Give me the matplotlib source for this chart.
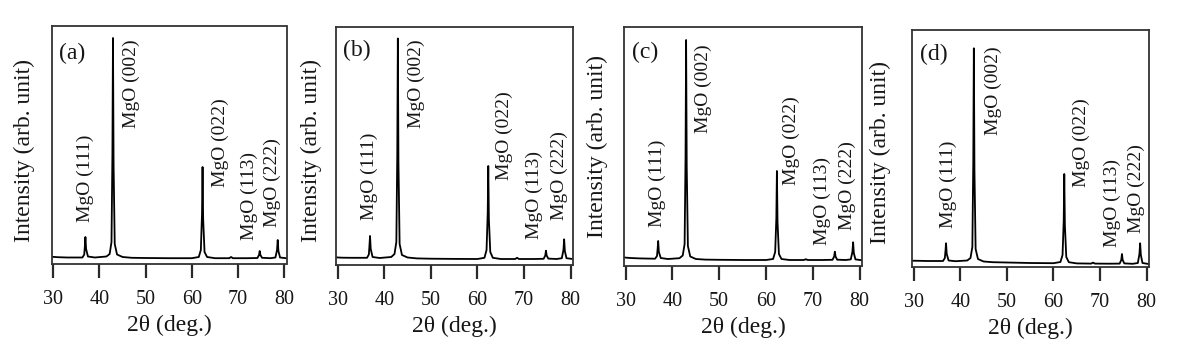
import matplotlib
matplotlib.use("Agg")
import matplotlib.pyplot as plt

plt.rcParams["font.family"] = ["Liberation Serif", "DejaVu Serif"]

# 2theta sampling points of the traced scans (deg.)
two_theta = [29.7, 31, 33, 35,
             36.3, 36.7, 36.85, 36.95, 37.1, 37.5,
             39, 41.5,
             42.2, 42.6, 42.8, 42.92, 43.05, 43.3, 43.8,
             45, 47, 50, 55, 60,
             61.5, 61.95, 62.2, 62.32, 62.45, 62.75, 63.3,
             65, 68.1, 68.5, 68.9, 72,
             74.2, 74.55, 74.7, 74.85, 75.2,
             77,
             78.1, 78.45, 78.6, 78.75, 79.1,
             80.4]

# intensities (arb. unit)
int_a = [7.2, 6.8, 6.5, 6.5,
         6.5, 9.5, 19, 27, 15, 7.5,
         6.5, 7.5,
         10, 22, 110, 226, 100, 20, 9.5,
         7.0, 6.2, 6.0, 5.8, 5.8,
         7.0, 14, 50, 97, 45, 12, 7.0,
         5.8, 5.8, 7.0, 5.8, 5.8,
         6.0, 9.0, 13, 9.0, 6.2,
         5.8,
         6.5, 14, 24, 13, 6.5,
         5.8]

int_b = [7.6, 7.3, 7.2, 7.2,
         7.2, 10.5, 21, 29, 16, 8.0,
         7.0, 8.0,
         11, 23, 112, 226.5, 102, 21, 10,
         7.5, 6.6, 6.3, 6.1, 6.0,
         7.2, 15, 52, 99, 46, 13, 7.2,
         6.0, 6.0, 7.2, 6.0, 6.0,
         6.2, 9.5, 14.3, 9.5, 6.4,
         6.0,
         6.8, 15, 25.7, 14, 6.8,
         6.0]

int_c = [8.5, 8.0, 7.6, 7.4,
         7.3, 10, 18, 25, 14, 8.0,
         7.0, 7.8,
         10.5, 22, 110, 226, 100, 20, 9.5,
         7.0, 6.4, 6.2, 6.0, 6.0,
         7.0, 14, 48, 95, 44, 12, 7.0,
         6.0, 6.0, 6.8, 6.0, 6.0,
         6.2, 9.5, 14.3, 9.5, 6.3,
         6.0,
         6.6, 14, 23.7, 13, 6.6,
         5.8]

int_d = [6.3, 6.2, 6.0, 6.0,
         6.0, 9.0, 17, 23.7, 13, 6.5,
         5.8, 6.5,
         9.0, 20, 106, 218.7, 96, 18, 8.0,
         5.5, 4.8, 4.5, 4.0, 3.8,
         5.0, 12, 46, 93, 42, 10, 4.8,
         3.6, 3.4, 4.4, 3.4, 3.3,
         3.4, 7.0, 13, 7.0, 3.6,
         3.2,
         4.0, 13, 23.7, 12, 4.0,
         3.0]

intensities = [int_a, int_b, int_c, int_d]
panel_tags = ["(a)", "(b)", "(c)", "(d)"]
peak_names = ["MgO (111)", "MgO (002)", "MgO (022)", "MgO (113)", "MgO (222)"]
x_ticks = [30, 40, 50, 60, 70, 80]

# layout: axes boxes in pixels (left, top, right, bottom)
W, H = 1201, 354
boxes = [(51.7, 26, 286.5, 264),
         (336, 27, 573, 265),
         (624, 27, 862, 266),
         (912, 30, 1149, 267)]
# peak label anchors (x centre, bottom) in data units
label_x = [[37.0, 47.0, 66.2, 72.5, 77.4],
           [36.9, 46.8, 65.7, 72.2, 77.6],
           [36.8, 46.5, 65.3, 72.1, 77.4],
           [37.4, 47.2, 65.9, 72.6, 77.8]]
label_y = [[42, 136, 77, 24, 37],
           [45, 136.7, 85, 26, 45],
           [39.3, 133, 81, 21, 36],
           [38.7, 132, 80, 20.3, 33.7]]
ylabel_xy = [(35, 151), (321.7, 151), (608, 147), (891, 152)]
tag_xy = [(59, 53), (343, 50), (632, 52), (920, 54)]

ink = "#161616"
fig = plt.figure(figsize=(W / 100, H / 100), dpi=100)

for i in range(4):
    l, t, r, b = boxes[i]
    ax = fig.add_axes([l / W, (H - b) / H, (r - l) / W, (b - t) / H])
    ax.plot(two_theta, intensities[i], color="black", lw=1.3)
    ax.set_xlim(29.65, 80.5)
    ax.set_ylim(0, b - t)

    for sp in ax.spines.values():
        sp.set_linewidth(1.3)
        sp.set_color("#333333")

    ax.set_yticks([])
    ax.set_xticks(x_ticks)
    ax.tick_params(axis="x", direction="out", length=10, width=1.6,
                   color="#2a2a2a", labelsize=14.5, labelcolor=ink, pad=9)
    ax.set_xlabel("2θ (deg.)", fontsize=17, color=ink, labelpad=4)

    ax.set_ylabel("Intensity (arb. unit)", fontsize=17, color=ink)
    lx, ly = ylabel_xy[i]
    ax.yaxis.set_label_coords((lx - l) / (r - l), (b - ly) / (b - t))

    tx, ty = tag_xy[i]
    ax.text((tx - l) / (r - l), (b - ty) / (b - t), panel_tags[i],
            transform=ax.transAxes, fontsize=17, color=ink,
            ha="left", va="center")

    for k in range(5):
        ax.text(label_x[i][k], label_y[i][k], peak_names[k], rotation=90,
                fontsize=14, color=ink, ha="center", va="bottom")

fig.savefig("out.png", dpi=100)
